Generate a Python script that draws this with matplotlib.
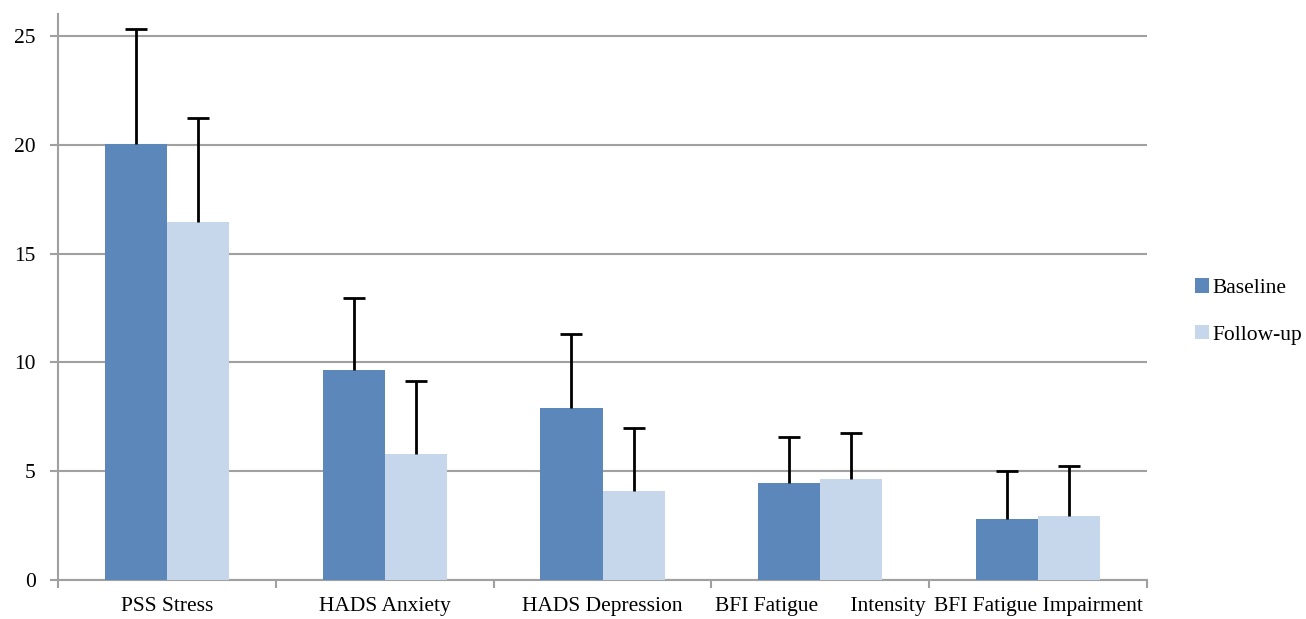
import matplotlib

matplotlib.use("Agg")
import matplotlib.pyplot as plt
import numpy as np

categories = ["PSS Stress", "HADS Anxiety", "HADS Depression",
              "BFI Fatigue      Intensity", "BFI Fatigue Impairment"]
baseline_mean = [20.05, 9.65, 7.9, 4.45, 2.8]
baseline_sd = [5.25, 3.3, 3.4, 2.12, 2.22]
followup_mean = [16.45, 5.8, 4.1, 4.65, 2.93]
followup_sd = [4.8, 3.35, 2.9, 2.12, 2.3]
series_labels = ["Baseline", "Follow-up"]
y_ticks = [0, 5, 10, 15, 20, 25]

BASE_COLOR = "#5b87ba"
FOLLOW_COLOR = "#c6d7eb"
GRID_COLOR = "#a0a0a0"
FS = 15.5

plt.rcParams["font.family"] = ["Liberation Serif", "DejaVu Serif"]

fig = plt.figure(figsize=(13.06, 6.19), dpi=100)
ax = fig.add_axes([0.0444, 0.063, 0.8339, 0.914])

x = np.arange(len(categories))
width = 0.285
err_kw = dict(ecolor="black", elinewidth=2.0, capsize=8, capthick=2.0)
containers = [
    ax.bar(x - width / 2, baseline_mean, width, color=BASE_COLOR, label=series_labels[0],
           yerr=[np.zeros(len(x)), baseline_sd], error_kw=err_kw, zorder=3),
    ax.bar(x + width / 2, followup_mean, width, color=FOLLOW_COLOR, label=series_labels[1],
           yerr=[np.zeros(len(x)), followup_sd], error_kw=err_kw, zorder=3),
]
# only the upper cap is shown
for cont in containers:
    caplines = cont.errorbar.lines[1]
    caplines[0].set_visible(False)

ax.set_xlim(-0.5, len(categories) - 0.5)
ax.set_ylim(0, 26)
ax.set_yticks(y_ticks)
ax.yaxis.grid(True, color=GRID_COLOR, linewidth=1.5, zorder=0)
ax.set_axisbelow(True)

ax.set_xticks(x)
ax.set_xticklabels(categories, fontsize=FS)
ax.set_xticks(np.arange(len(categories) + 1) - 0.5, minor=True)
ax.tick_params(axis="x", which="major", length=0, pad=12)
ax.tick_params(axis="x", which="minor", length=6, width=1.5, color=GRID_COLOR, direction="out")
ax.tick_params(axis="y", length=6, width=1.5, color=GRID_COLOR, labelsize=FS, pad=10)

for side in ["top", "right"]:
    ax.spines[side].set_visible(False)
for side in ["left", "bottom"]:
    ax.spines[side].set_color(GRID_COLOR)
    ax.spines[side].set_linewidth(1.5)

ax.legend(loc="center left", bbox_to_anchor=(0.9, 0.497), bbox_transform=fig.transFigure,
          frameon=False, fontsize=FS, handlelength=0.65, handleheight=0.65,
          handletextpad=0.15, labelspacing=1.25)

fig.savefig("out.png", dpi=100)
